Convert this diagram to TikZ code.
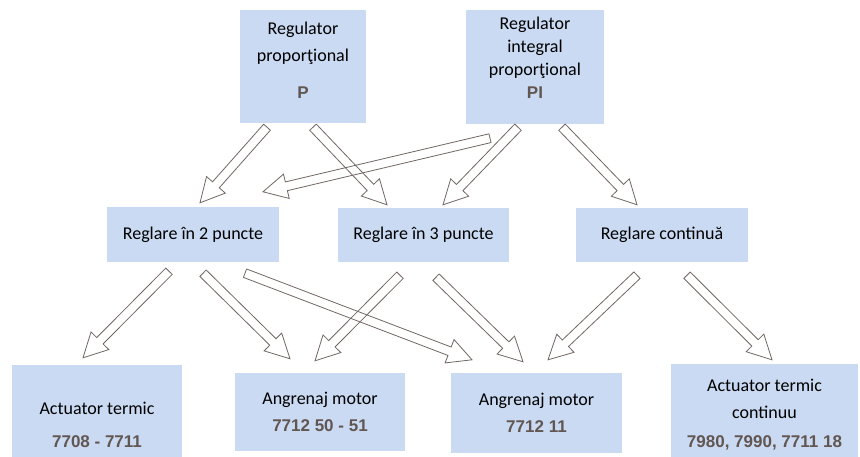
\documentclass[tikz,border=0pt]{standalone}
\usepackage{fontspec}
\setmainfont{Carlito}
\newfontfamily\numfont{Liberation Sans}
\usetikzlibrary{calc}
\definecolor{boxblue}{RGB}{201,218,242}
\definecolor{numgray}{RGB}{98,86,82}
\definecolor{arrowgray}{RGB}{112,102,98}
\tikzstyle{box}=[fill=boxblue,align=center,inner sep=0pt,font=\fontsize{18}{23}\selectfont]
\tikzstyle{hollow}=[draw=arrowgray,line width=0.8pt,line join=miter]
\newcommand{\codenr}[1]{{\numfont\bfseries\fontsize{17}{20}\selectfont\color{numgray}#1}}
% hollow block arrow from #1 (tail) to #2 (tip)
\newcommand{\blockarrow}[2]{%
  \path ($(#2)!24pt!(#1)$) coordinate (ba);
  \draw[hollow] ($(#1)!4.5pt!90:(#2)$) -- ($(ba)!4.5pt!90:(#2)$) -- ($(ba)!12.5pt!90:(#2)$)
    -- (#2) -- ($(ba)!12.5pt!-90:(#2)$) -- ($(ba)!4.5pt!-90:(#2)$) -- ($(#1)!4.5pt!-90:(#2)$) -- cycle;}

\begin{document}
\begin{tikzpicture}[x=1pt,y=1pt]
\useasboundingbox (0,0) rectangle (860,-457);
% controllers
\node[box,minimum width=126pt,minimum height=113pt] at (303,-66.5) (p) {Regulator\\[4pt]proporţional\\[14pt]\codenr{P}\rule[-13pt]{0pt}{13pt}};
\node[box,minimum width=138pt,minimum height=114pt] at (535,-67) (pi) {Regulator\\integral\\proporţional\\\codenr{PI}\rule[-19pt]{0pt}{19pt}};
% control modes
\node[box,minimum width=172pt,minimum height=55pt] at (193,-234.5) (r2) {Reglare în 2 puncte};
\node[box,minimum width=171pt,minimum height=54pt] at (423.5,-235) (r3) {Reglare în 3 puncte};
\node[box,minimum width=172pt,minimum height=54pt] at (662,-235) (rc) {Reglare continuă};
% actuators
\node[box,minimum width=170pt,minimum height=92pt] at (97,-411) (act) {\rule{0pt}{41pt}Actuator termic\\[10pt]\codenr{7708 - 7711}};
\node[box,minimum width=170pt,minimum height=78pt] at (320,-412) (ang1) {Angrenaj motor\\[4pt]\codenr{7712 50 - 51}};
\node[box,minimum width=171pt,minimum height=80pt] at (536.5,-413) (ang2) {Angrenaj motor\\[4pt]\codenr{7712 11}};
\node[box,minimum width=187pt,minimum height=93pt] at (764.5,-410.5) (actc) {\rule{0pt}{21pt}Actuator termic\\[4pt]continuu\\[6pt]\codenr{7980, 7990, 7711 18}};

% arrow ends
\coordinate (p1) at ([shift={(-36,-4)}]p.south);
\coordinate (p2) at ([shift={(10,-4)}]p.south);
\coordinate (pi1) at ([shift={(-45,-14)}]pi.south);
\coordinate (pi2) at ([shift={(-17,-3)}]pi.south);
\coordinate (pi3) at ([shift={(27,-3)}]pi.south);
\coordinate (r2a) at ([shift={(7,4)}]r2.north);
\coordinate (r2b) at ([shift={(70,15)}]r2.north);
\coordinate (r3a) at ([shift={(-36.5,3)}]r3.north);
\coordinate (r3b) at ([shift={(19.5,3)}]r3.north);
\coordinate (rca) at ([shift={(-25,3)}]rc.north);
\coordinate (r2o1) at ([shift={(-24,-9)}]r2.south);
\coordinate (r2o2) at ([shift={(10,-11)}]r2.south);
\coordinate (r2o3) at ([shift={(52,-11)}]r2.south);
\coordinate (r3o1) at ([shift={(-23.5,-13)}]r3.south);
\coordinate (r3o2) at ([shift={(12.5,-15)}]r3.south);
\coordinate (rco1) at ([shift={(-25,-13)}]rc.south);
\coordinate (rco2) at ([shift={(25,-13)}]rc.south);
\coordinate (acti) at ([shift={(-14,7)}]act.north);
\coordinate (ang1a) at ([shift={(-30,14)}]ang1.north);
\coordinate (ang1b) at ([shift={(-5,12)}]ang1.north);
\coordinate (ang2a) at ([shift={(-64.5,13)}]ang2.north);
\coordinate (ang2b) at ([shift={(-13.5,11)}]ang2.north);
\coordinate (ang2c) at ([shift={(11.5,13)}]ang2.north);
\coordinate (actci) at ([shift={(7.5,4)}]actc.north);

\blockarrow{p1}{r2a}
\blockarrow{p2}{r3a}
\blockarrow{pi1}{r2b}
\blockarrow{pi2}{r3b}
\blockarrow{pi3}{rca}
\blockarrow{r2o1}{acti}
\blockarrow{r2o2}{ang1a}
\blockarrow{r2o3}{ang2a}
\blockarrow{r3o1}{ang1b}
\blockarrow{r3o2}{ang2b}
\blockarrow{rco1}{ang2c}
\blockarrow{rco2}{actci}
\end{tikzpicture}
\end{document}
